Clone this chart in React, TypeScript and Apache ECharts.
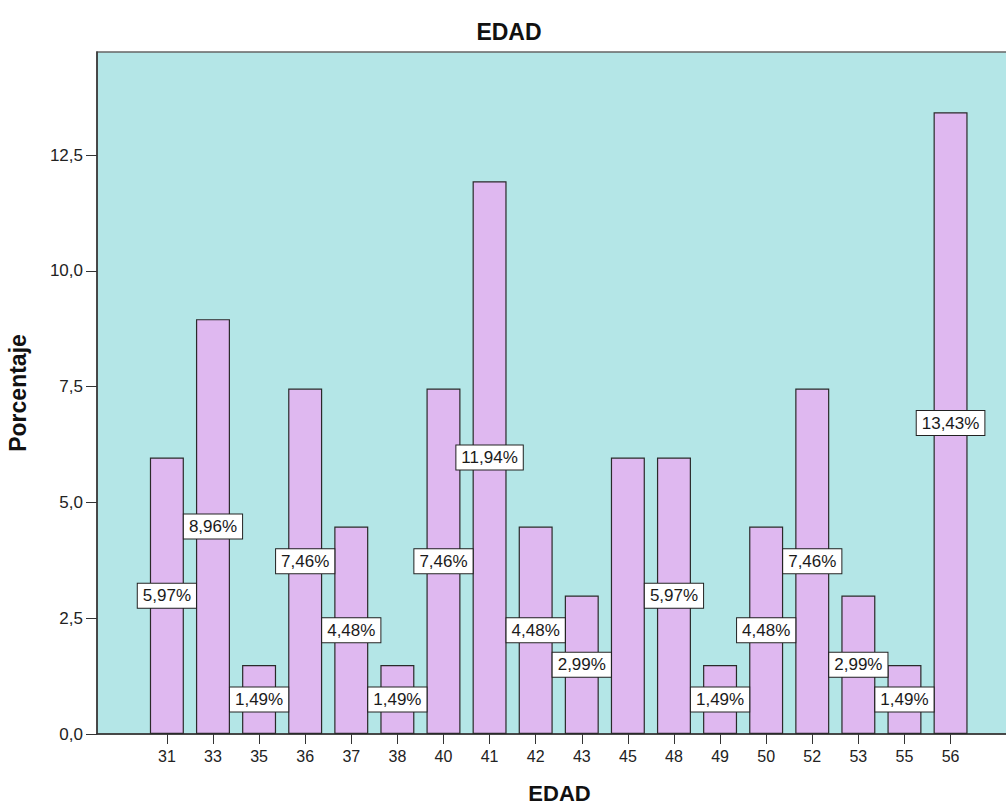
import React, { useEffect, useRef } from "react";
import * as echarts from "echarts";

const categories = ["31", "33", "35", "36", "37", "38", "40", "41", "42", "43", "45", "48", "49", "50", "52", "53", "55", "56"];
const percentages = [5.97, 8.96, 1.49, 7.46, 4.48, 1.49, 7.46, 11.94, 4.48, 2.99, 5.97, 5.97, 1.49, 4.48, 7.46, 2.99, 1.49, 13.43];
const hiddenLabels = ["45"];
const yTicks = [0, 2.5, 5, 7.5, 10, 12.5];

const FONT = "'Liberation Sans', Arial, Helvetica, sans-serif";

export default function App() {
  const ref = useRef<HTMLDivElement>(null);
  useEffect(() => {
    if (!ref.current) return;
    const chart = echarts.init(ref.current, undefined, { renderer: "svg" });
    const idx = categories.map((_, i) => i);
    const data = categories.map((c, i) => ({
      value: [i, percentages[i]],
      label: { show: !hiddenLabels.includes(c) },
    }));
    chart.setOption({
      animation: false,
      backgroundColor: "#ffffff",
      textStyle: { fontFamily: FONT },
      graphic: [
        {
          type: "text",
          x: 509,
          y: 32,
          style: {
            text: "EDAD",
            textAlign: "center",
            textVerticalAlign: "middle",
            fontFamily: FONT,
            fontWeight: "bold",
            fontSize: 23,
            fill: "#111",
          },
        },
      ],
      grid: {
        left: 97,
        top: 52,
        right: -2,
        bottom: 72,
        outerBoundsMode: "none",
        containLabel: false,
        show: true,
        backgroundColor: "#B4E6E7",
        borderColor: "#666",
        borderWidth: 1.5,
      },
      xAxis: {
        type: "value",
        min: -1.516,
        max: 18.246,
        name: "EDAD",
        nameLocation: "middle",
        nameGap: 48,
        nameTextStyle: {
          fontFamily: FONT,
          fontWeight: "bold",
          fontSize: 22,
          color: "#111",
          padding: [0, 0, 0, 14],
        },
        splitLine: { show: false },
        axisLine: { show: true, onZero: false, lineStyle: { color: "#333", width: 1.5 } },
        axisTick: { show: true, length: 10, customValues: idx, lineStyle: { color: "#333" } },
        axisLabel: {
          customValues: idx,
          margin: 14,
          fontSize: 16,
          color: "#222",
          fontFamily: FONT,
          formatter: (v: number) => categories[Math.round(v)] ?? "",
        },
      },
      yAxis: {
        type: "value",
        min: 0,
        max: 14.73,
        name: "Porcentaje",
        nameLocation: "middle",
        nameRotate: 90,
        nameGap: 68,
        nameTextStyle: { fontFamily: FONT, fontWeight: "bold", fontSize: 23, color: "#111" },
        splitLine: { show: false },
        axisLine: { show: true, onZero: false, lineStyle: { color: "#333", width: 1.5 } },
        axisTick: { show: true, length: 11, customValues: yTicks, lineStyle: { color: "#333" } },
        axisLabel: {
          customValues: yTicks,
          margin: 14,
          fontSize: 17,
          color: "#222",
          fontFamily: FONT,
          formatter: (v: number) => v.toFixed(1).replace(".", ","),
        },
      },
      series: [
        {
          type: "bar",
          data,
          barWidth: 34,
          itemStyle: { color: "#DFB8F0", borderColor: "#2a2a2a", borderWidth: 1.2 },
          label: {
            show: true,
            position: "inside",
            fontFamily: FONT,
            fontSize: 17,
            color: "#1a1a1a",
            backgroundColor: "#ffffff",
            borderColor: "#222",
            borderWidth: 1,
            padding: [4, 5, 3, 5],
            formatter: (p: any) => p.value[1].toFixed(2).replace(".", ",") + "%",
          },
        },
      ],
    });
    return () => chart.dispose();
  }, []);
  return (
    <div
      ref={ref}
      style={{ position: "fixed", left: 0, top: 0, width: 1006, height: 806 }}
    />
  );
}
